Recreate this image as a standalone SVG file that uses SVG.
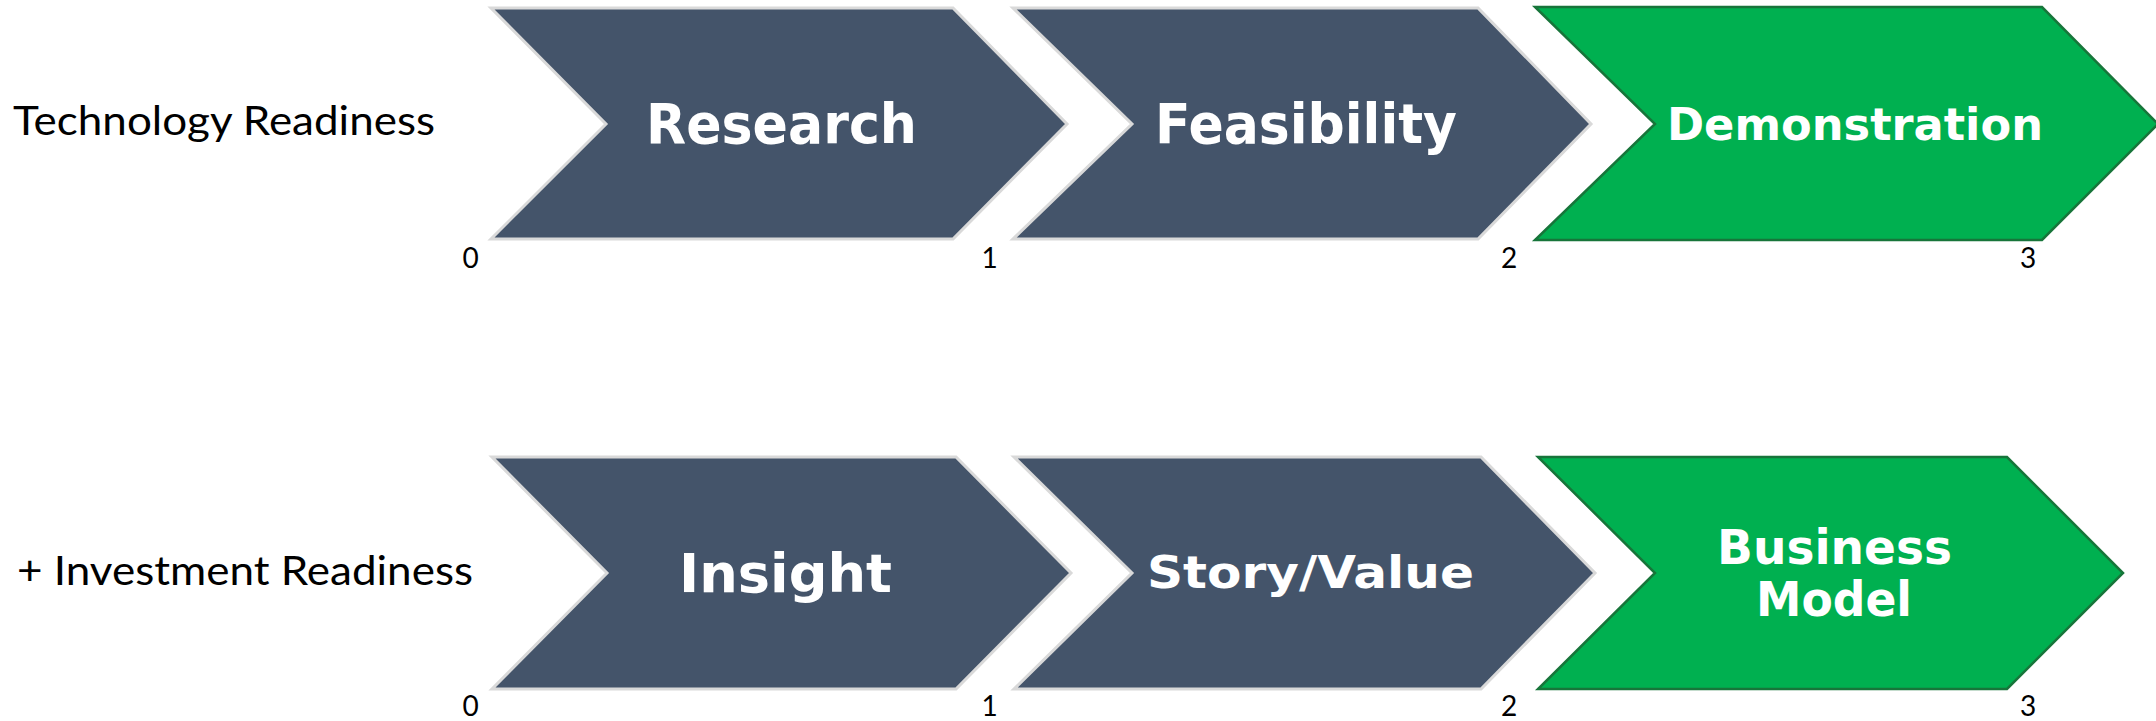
<svg xmlns="http://www.w3.org/2000/svg" width="2156" height="721" viewBox="0 0 2156 721">
<style>
.gray{fill:#44546A;stroke:#D9D9D9;stroke-width:3;stroke-linejoin:miter}
.green{fill:#00B050;stroke:#17753A;stroke-width:2.5;stroke-linejoin:miter}
.lbl{font-family:"DejaVu Sans","Liberation Sans",sans-serif;font-weight:bold;fill:#FFFFFF}
.side{font-family:Lato,"Open Sans","Liberation Sans",sans-serif;fill:#000000;font-size:41px}
.num{font-family:Lato,"Open Sans","Liberation Sans",sans-serif;fill:#000000;font-size:28px;text-anchor:middle}
</style>
<rect width="2156" height="721" fill="#FFFFFF"/>
<text class="side" x="13" y="135" textLength="422" lengthAdjust="spacingAndGlyphs">Technology Readiness</text>
<text class="side" x="17" y="585" textLength="456" lengthAdjust="spacingAndGlyphs">+ Investment Readiness</text>
<g id="research">
<polygon class="gray" points="491,8 953,8 1067,124 953,239 491,239 606,124"/>
<text class="lbl" x="646" y="143" font-size="55" textLength="271" lengthAdjust="spacingAndGlyphs">Research</text>
</g>
<g id="feasibility">
<polygon class="gray" points="1013,8 1478,8 1591,124 1478,239 1013,239 1132,124"/>
<text class="lbl" x="1155" y="143" font-size="55" textLength="302" lengthAdjust="spacingAndGlyphs">Feasibility</text>
</g>
<g id="demonstration">
<polygon class="green" points="1535,7 2042,7 2158,124 2042,240 1535,240 1655,124"/>
<text class="lbl" x="1667" y="140" font-size="45" textLength="376" lengthAdjust="spacingAndGlyphs">Demonstration</text>
</g>
<g id="insight">
<polygon class="gray" points="492,457 956,457 1071,573 956,689 492,689 607,573"/>
<text class="lbl" x="679" y="592" font-size="54" textLength="213" lengthAdjust="spacingAndGlyphs">Insight</text>
</g>
<g id="story-value">
<polygon class="gray" points="1014,457 1481,457 1595,573 1481,689 1014,689 1132,573"/>
<text class="lbl" x="1147" y="588" font-size="45" textLength="327" lengthAdjust="spacingAndGlyphs">Story/Value</text>
</g>
<g id="business-model">
<polygon class="green" points="1538,457 2007,457 2123,573 2007,689 1538,689 1655,573"/>
<text class="lbl" x="1717" y="564" font-size="48" textLength="235" lengthAdjust="spacingAndGlyphs">Business</text>
<text class="lbl" x="1756" y="616" font-size="48" textLength="156" lengthAdjust="spacingAndGlyphs">Model</text>
</g>
<g id="scale-row1">
<text class="num" x="470.5" y="268">0</text>
<text class="num" x="989.5" y="268">1</text>
<text class="num" x="1509" y="268">2</text>
<text class="num" x="2028" y="268">3</text>
</g>
<g id="scale-row2">
<text class="num" x="470.5" y="716">0</text>
<text class="num" x="989.5" y="716">1</text>
<text class="num" x="1509" y="716">2</text>
<text class="num" x="2028" y="716">3</text>
</g>
<g id="connectors"></g>
</svg>
